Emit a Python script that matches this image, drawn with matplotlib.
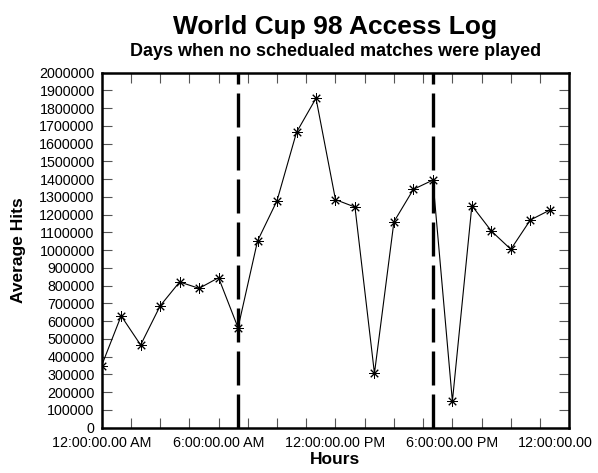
import matplotlib
matplotlib.use("Agg")
import matplotlib.pyplot as plt

plt.rcParams['font.family'] = ['Liberation Sans', 'DejaVu Sans']

hours = list(range(24))
hits = [350000, 630000, 466000, 686000, 821000, 785000, 845000, 563000,
        1052000, 1279000, 1664000, 1856000, 1285000, 1243000, 306000, 1160000,
        1343000, 1395000, 149000, 1251000, 1108000, 1005000, 1170000, 1226000]
match_hours = [7, 17]
xtick_pos = [0, 6, 12, 18]
xtick_labels = ["12:00:00.00 AM", "6:00:00.00 AM", "12:00:00.00 PM",
                "6:00:00.00 PM"]
last_label = "12:00:00.00"
ytick_vals = list(range(0, 2000001, 100000))

L, B, W, H = 0.170, 0.0958, 0.782, 0.7505
fig = plt.figure(figsize=(5.98, 4.73), dpi=100)
ax = fig.add_axes([L, B, W, H])

ax.plot(hours, hits, color='black', linewidth=0.8,
        marker=(8, 2, 0), markersize=7.5, markeredgewidth=0.7,
        markeredgecolor='black')
for h in match_hours:
    ln = ax.axvline(h, color='black', linewidth=2.4)
    ln.set_dashes((10.2, 2.7))

ax.set_xlim(0, 24)
ax.set_ylim(0, 2000000)
ticks = [i * 1.5 for i in range(17)]
ax.set_xticks(ticks)
ax.set_xticklabels([xtick_labels[xtick_pos.index(t)] if t in xtick_pos else "" for t in ticks])
ax.set_yticks(ytick_vals)
ax.set_yticklabels([str(v) for v in ytick_vals])

ax.tick_params(direction='in', length=7, width=0.8, color='#555555',
               top=True, right=True, labelsize=10.3, pad=5)
ax.tick_params(axis='x', pad=6)
for s in ax.spines.values():
    s.set_linewidth(1.8)

# last x label sits at the right edge of the figure
ax.annotate(last_label, xy=(24, 0), xycoords=('data', 'axes fraction'),
            xytext=(-37, -6 * 1.0), textcoords='offset points',
            ha='left', va='top', fontsize=10.3)

cx = L + W / 2
fig.text(cx, 1 - 34.3 / 473, "World Cup 98 Access Log", ha='center', va='baseline',
         fontsize=19, fontweight='bold')
fig.text(cx, 1 - 56.4 / 473, "Days when no schedualed matches were played", ha='center',
         va='baseline', fontsize=13, fontweight='bold')
fig.text(cx, 1 - 464.4 / 473, "Hours", ha='center', va='baseline',
         fontsize=12.5, fontweight='bold')
fig.text(18.3 / 598, B + H / 2, "Average Hits", ha='center', va='center',
         rotation=90, fontsize=12.5, fontweight='bold')

fig.savefig("out.png", dpi=100)
